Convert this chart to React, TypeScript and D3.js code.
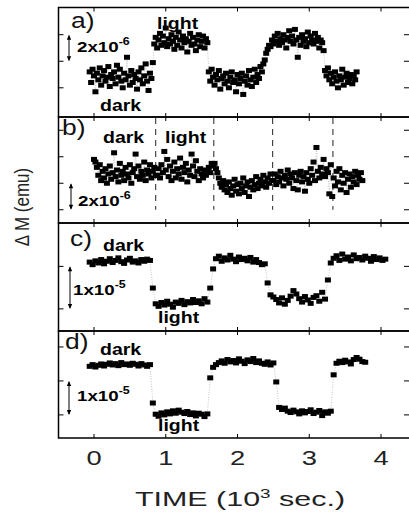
import React from 'react';
import * as d3 from 'd3';

// time stamps in seconds (axis unit is 10^3 s)
const TIMES_FINE = [
  -60, -40, -20, 0, 20, 40, 60, 80, 100, 120,
  140, 160, 180, 200, 220, 240, 260, 280, 300, 320,
  340, 360, 380, 400, 420, 440, 460, 480, 500, 520,
  540, 560, 580, 600, 620, 640, 660, 680, 700, 720,
  740, 760, 780, 800, 820, 840, 860, 880, 900, 920,
  940, 960, 980, 1000, 1020, 1040, 1060, 1080, 1100, 1120,
  1140, 1160, 1180, 1200, 1220, 1240, 1260, 1280, 1300, 1320,
  1340, 1360, 1380, 1400, 1420, 1440, 1460, 1480, 1500, 1520,
  1540, 1560, 1580, 1600, 1620, 1640, 1660, 1680, 1700, 1720,
  1740, 1760, 1780, 1800, 1820, 1840, 1860, 1880, 1900, 1920,
  1940, 1960, 1980, 2000, 2020, 2040, 2060, 2080, 2100, 2120,
  2140, 2160, 2180, 2200, 2220, 2240, 2260, 2280, 2300, 2320,
  2340, 2360, 2380, 2400, 2420, 2440, 2460, 2480, 2500, 2520,
  2540, 2560, 2580, 2600, 2620, 2640, 2660, 2680, 2700, 2720,
  2740, 2760, 2780, 2800, 2820, 2840, 2860, 2880, 2900, 2920,
  2940, 2960, 2980, 3000, 3020, 3040, 3060, 3080, 3100, 3120,
  3140, 3160, 3180, 3200, 3220, 3240, 3260, 3280, 3300, 3320,
  3340, 3360, 3380, 3400, 3420, 3440, 3460, 3480, 3500, 3520,
  3540, 3560, 3580, 3600, 3620, 3640, 3660, 3680, 3700, 3720,
  3740,
];

const TIMES_COARSE = [
  -60, -20, 20, 60, 100, 140, 180, 220, 260, 300,
  340, 380, 420, 460, 500, 540, 580, 620, 660, 700,
  740, 780, 820, 860, 900, 940, 980, 1020, 1060, 1100,
  1140, 1180, 1220, 1260, 1300, 1340, 1380, 1420, 1460, 1500,
  1540, 1580, 1620, 1660, 1700, 1740, 1780, 1820, 1860, 1900,
  1940, 1980, 2020, 2060, 2100, 2140, 2180, 2220, 2260, 2300,
  2340, 2380, 2420, 2460, 2500, 2540, 2580, 2620, 2660, 2700,
  2740, 2780, 2820, 2860, 2900, 2940, 2980, 3020, 3060, 3100,
  3140, 3180, 3220, 3260, 3300, 3340, 3380, 3420, 3460, 3500,
  3540, 3580, 3620, 3660, 3700, 3740, 3780, 3820, 3860, 3900,
  3940, 3980, 4020, 4060,
];

// panel a: ΔM in 10^-6 emu
const VALUES_A = [
  // dark
  1.2, 0.4, 1.4, 0.9, -0.3, 1.1, 0.6, 1.5, 0.2, 0.9,
  1.3, 0.5, 0.8, 1.6, 0.1, 1.0, 0.7, 1.2, 0.3, 1.7,
  0.8, 1.4, 0.5, 0.0, 1.1, 0.6, 2.3, 0.9, 0.2, 1.3,
  0.4, 1.0, 0.7, -0.1, 1.2, 0.6, 1.5, 0.3, 0.9, 1.8,
  0.5, -0.2, 1.1, 0.7,
  1.9,
  // light
  3.3, 3.8, 3.0, 3.6, 4.1, 3.2, 3.9, 3.4, 4.5, 3.1,
  3.7, 3.3, 4.0, 3.5, 2.9, 3.8, 3.2, 4.2, 3.6, 3.0,
  3.9, 3.4, 3.7, 2.7, 3.5, 4.1, 3.2, 3.8, 3.3, 2.8,
  3.6, 4.0, 3.1, 3.5, 3.9, 3.0, 3.7, 3.4,
  // dark
  1.2, 0.5, 1.4, 0.8, 0.2, 1.0, 0.6, 1.3, -0.1, 0.7,
  0.9, 0.3, 1.1, 0.5, 0.0, 0.8, 1.2, 0.4, 0.6, -0.3,
  1.0, 0.3, 0.7, 1.1, -0.5, 0.5, 0.9, 0.2, 1.3, 0.6,
  0.1, 0.8, 1.4, 0.4, 1.0, 0.7, 1.6, 1.2,
  1.8, 2.1, 2.6, 2.9, 3.2,
  // light
  3.1, 3.6, 3.3, 3.9, 3.5, 4.1, 3.2, 3.7, 3.4, 4.0,
  3.6, 3.0, 3.8, 4.3, 3.5, 3.9, 3.3, 4.4, 3.6, 2.3,
  3.8, 3.2, 4.0, 3.5, 3.7, 3.1, 4.2, 3.4, 3.9, 3.6,
  3.3, 4.1, 3.5, 3.8, 3.0, 3.6, 3.4, 2.8,
  // dark
  1.3, 0.9, 1.5, 0.6, 1.1, 0.3, 0.8, 1.2, 0.5, 0.0,
  0.9, 0.6, 1.4, 0.2, 0.8, 1.1, 0.4, 0.7, 1.0, 0.3,
  0.9, 0.6, 1.2,
];

// panel b: ΔM in 10^-6 emu
const VALUES_B = [
  null, null, null,
  // dark
  3.8, 3.6, 3.2, 2.6, 3.4, 2.2, 2.9, 2.4, 3.1, 2.0,
  2.7, 3.3, 2.3, 2.8, 4.3, 2.5, 3.0, 2.1, 3.5, 2.6,
  2.9, 2.2, 3.2, 2.7, 2.4, 3.4, 2.0, 2.8, 3.1, 4.2,
  2.5, 3.3, 2.3, 2.9, 2.6, 3.6, 2.2, 3.0, 2.7, 3.4,
  2.4, 2.9, 3.2, 2.6,
  // light
  2.6, 3.1, 2.4, 3.4, 2.8, 4.4, 3.0, 3.8, 2.5, 3.3,
  2.2, 2.9, 3.6, 2.4, 3.1, 2.7, 3.9, 2.3, 3.2, 2.8,
  3.5, 2.1, 3.0, 2.6, 4.2, 3.3, 2.5, 3.7, 2.9, 2.2,
  3.1, 2.7, 2.4, 3.0, 2.6, 2.9, 3.2, 2.8, 3.5, 3.3,
  // dark
  3.5, 3.1, 2.8, 2.4, 2.0, 1.7, 2.2, 1.5, 1.9, 1.3,
  2.1, 1.6, 1.1, 1.8, 2.3, 1.4, 1.9, 1.2, 2.0, 1.6,
  2.4, 1.3, 1.8, 2.1, 1.0, 1.7, 2.2, 1.5, 1.9, 2.5,
  1.6, 2.0, 2.3, 1.8, 2.6, 2.1, 1.7, 2.4, 2.0, 2.7, 2.2,
  // light
  2.2, 2.7, 1.9, 2.5, 2.1, 2.9, 2.4, 1.8, 2.6, 2.3,
  3.0, 2.0, 2.7, 2.4, 1.6, 2.8, 2.2, 1.5, 2.6, 2.9,
  2.1, 2.5, 1.4, 2.8, 2.3, 2.0, 3.1, 2.6, 3.6, 2.2,
  4.7, 2.9, 2.4, 3.2, 2.7, 3.8, 2.5, 3.1, 2.8, 1.2, 3.4, 1.0,
  // dark
  2.4, 1.8, 2.9, 2.1, 3.1, 1.5, 2.6, 2.0, 2.8, 1.3,
  2.3, 2.7, 1.7, 2.5, 2.1, 2.9, 1.9, 2.6, 2.3, 2.8, 2.2,
];

// panel c: ΔM in 10^-6 emu
const VALUES_C = [
  11.0, 10.4, 11.3, 10.8, 11.6, 10.6, 11.2, 11.8, 10.9, 11.4,
  12.0, 11.1, 10.7, 11.5, 11.9, 11.0, 11.3, 10.8, 11.6, 11.2,
  11.7, 11.4,
  4.9,
  1.2, 0.6, 1.5, 0.9, 1.8, 1.1, 0.4, 1.6, 1.3, 2.0,
  1.0, 1.7, 1.4, 2.2, 1.5, 1.9, 1.2, 2.4, 1.6,
  4.9, 9.4,
  11.8, 12.4, 11.2, 12.0, 11.5, 12.6, 11.7, 11.1, 12.2, 11.6,
  11.9, 11.3, 12.1, 11.0, 11.6, 10.9, 10.4, 10.6,
  6.1,
  3.3, 2.8, 2.2, 1.4, 2.6, 1.1, 2.0, 3.0, 4.3, 3.5,
  2.4, 1.6, 2.9, 2.1, 1.3, 2.7, 3.1, 1.8, 3.9, 2.3,
  6.8,
  10.8, 11.9, 12.5, 11.4, 12.9, 11.7, 12.2, 11.3, 12.7, 11.8,
  12.1, 11.5, 12.4, 11.9, 11.2, 12.3, 11.6, 12.0, 11.4, 11.7,
];

// panel d: ΔM in 10^-6 emu
const VALUES_D = [
  14.3, 14.8, 14.1, 14.6, 15.0, 14.4, 14.9, 15.3, 14.7, 15.1,
  14.5, 15.4, 14.8, 15.0, 14.6, 15.2, 14.9, 14.4, 15.1, 14.7,
  14.3, 14.8,
  3.5,
  0.2, -0.4, 0.6, 0.0, 0.9, 0.3, 1.2, 0.5, 1.4, 0.8,
  0.4, 1.0, 0.1, 0.6, -0.3, 0.5, 0.2, -0.5, 0.3,
  10.9,
  14.0, 14.8, 15.4, 15.9, 15.2, 16.3, 15.6, 16.0, 15.3, 16.5,
  15.8, 15.1, 16.2, 15.7, 16.6, 15.4, 15.9, 15.2, 14.9, 15.6,
  14.7, 15.3,
  9.7,
  2.2, 1.6, 2.0, 1.1, 0.7, 1.4, 0.9, 0.3, 1.2, 0.6,
  1.0, 1.5, 0.4, 0.8, 1.3, -0.2, 0.9, 0.5, 1.1,
  11.8,
  15.2, 15.8, 15.4, 16.1, 15.6, 15.0, 16.3, 16.9, 16.4, 15.7, 15.5,
];

const X_TICKS = [0, 1, 2, 3, 4];
const Y_TICKS_A = [0, 2, 4];
const Y_TICKS_B = [0, 2, 4, 6];
const Y_TICKS_C = [0, 10];
const Y_TICKS_D = [0, 10, 20];
const DASH_TIMES_B = [0.86, 1.67, 2.49, 3.33];

const FONT = '"Liberation Sans", Arial, Helvetica, sans-serif';
const W = 409;
const H = 512;
const X_LEFT = 58.5;
const X_RIGHT = 413;

const xScale = d3.scaleLinear().domain([0, 4]).range([94, 381]);

type PanelCfg = {
  label: string;
  top: number;
  bottom: number;
  domain: [number, number];
  times: number[];
  values: (number | null)[];
  yTicks: number[];
  arrow: [number, number];
  arrowX: number;
  labelPos: [number, number];
  darkPos: [number, number];
  lightPos: [number, number];
  scalePos: [number, number];
  scaleText: string;
  scaleExp: string;
  dashes?: number[];
};

const PANELS: PanelCfg[] = [
  {
    label: 'a)', top: 7.5, bottom: 117, domain: [-2.2, 6.05], times: TIMES_FINE, values: VALUES_A,
    yTicks: Y_TICKS_A, arrow: [2, 4], arrowX: 69, labelPos: [71, 28], darkPos: [100, 111],
    lightPos: [157, 29], scalePos: [77, 52], scaleText: '2x10', scaleExp: '-6',
  },
  {
    label: 'b)', top: 117, bottom: 223, domain: [-1, 7], times: TIMES_FINE, values: VALUES_B,
    yTicks: Y_TICKS_B, arrow: [0, 2], arrowX: 71, labelPos: [62, 135], darkPos: [103, 143],
    lightPos: [165, 143], scalePos: [78, 206], scaleText: '2x10', scaleExp: '-6', dashes: DASH_TIMES_B,
  },
  {
    label: 'c)', top: 223, bottom: 331, domain: [-5.2, 20.2], times: TIMES_COARSE, values: VALUES_C,
    yTicks: Y_TICKS_C, arrow: [0, 10], arrowX: 70, labelPos: [70, 246], darkPos: [103, 251],
    lightPos: [158, 323], scalePos: [73, 295], scaleText: '1x10', scaleExp: '-5',
  },
  {
    label: 'd)', top: 331, bottom: 438, domain: [-6.8, 24.7], times: TIMES_COARSE, values: VALUES_D,
    yTicks: Y_TICKS_D, arrow: [0, 10], arrowX: 69, labelPos: [65, 349], darkPos: [100, 355],
    lightPos: [158, 431], scalePos: [77, 401], scaleText: '1x10', scaleExp: '-5',
  },
];

function Txt(props: {
  x: number; y: number; sx?: number; size: number; weight?: string; anchor?: string; fill?: string;
  children: React.ReactNode;
}) {
  const { x, y, sx = 1, size, weight = 'normal', anchor = 'start', fill = '#000', children } = props;
  return (
    <text
      transform={`translate(${x},${y}) scale(${sx},1)`}
      fontFamily={FONT}
      fontSize={size}
      fontWeight={weight}
      textAnchor={anchor}
      fill={fill}
    >
      {children}
    </text>
  );
}

function Panel({ cfg }: { cfg: PanelCfg }) {
  const y = d3.scaleLinear().domain(cfg.domain).range([cfg.bottom, cfg.top]);
  const pts: { t: number; v: number }[] = [];
  cfg.values.forEach((v, i) => {
    if (v !== null && v !== undefined) pts.push({ t: cfg.times[i] / 1000, v });
  });
  const line = d3
    .line<{ t: number; v: number }>()
    .x((d) => xScale(d.t))
    .y((d) => y(d.v));
  const mw = 6;
  const mh = 5;
  const a0 = y(cfg.arrow[0]);
  const a1 = y(cfg.arrow[1]);
  const ax = cfg.arrowX;
  return (
    <g>
      {/* frame */}
      <rect
        x={X_LEFT}
        y={cfg.top}
        width={X_RIGHT - X_LEFT}
        height={cfg.bottom - cfg.top}
        fill="none"
        stroke="#000"
        strokeWidth={1.5}
      />
      {/* x ticks */}
      {X_TICKS.map((t) => (
        <g key={'xt' + t}>
          <line x1={xScale(t)} x2={xScale(t)} y1={cfg.top} y2={cfg.top + 4} stroke="#000" strokeWidth={1} />
          <line x1={xScale(t)} x2={xScale(t)} y1={cfg.bottom} y2={cfg.bottom - 4} stroke="#000" strokeWidth={1} />
        </g>
      ))}
      {/* y ticks */}
      {cfg.yTicks.map((v) => (
        <g key={'yt' + v}>
          <line x1={X_LEFT} x2={X_LEFT + 5} y1={y(v)} y2={y(v)} stroke="#000" strokeWidth={1} />
          <line x1={404} x2={X_RIGHT} y1={y(v)} y2={y(v)} stroke="#000" strokeWidth={1} />
        </g>
      ))}
      {/* dashed separators */}
      {cfg.dashes &&
        cfg.dashes.map((t) => (
          <line
            key={'d' + t}
            x1={xScale(t)}
            x2={xScale(t)}
            y1={cfg.top + 1}
            y2={y(0)}
            stroke="#222"
            strokeWidth={1}
            strokeDasharray="6 5"
          />
        ))}
      {/* connecting line */}
      <path d={line(pts) || ''} fill="none" stroke="#aaa" strokeWidth={0.7} strokeDasharray="1 1.5" />
      {/* markers */}
      {pts.map((d, i) => (
        <rect key={i} x={xScale(d.t) - mw / 2} y={y(d.v) - mh / 2} width={mw} height={mh} fill="#000" />
      ))}
      {/* panel label */}
      <Txt x={cfg.labelPos[0]} y={cfg.labelPos[1]} size={22} sx={1.2} fill="#111">
        {cfg.label}
      </Txt>
      <Txt x={cfg.darkPos[0]} y={cfg.darkPos[1]} size={16} sx={1.22} weight="bold">
        dark
      </Txt>
      <Txt x={cfg.lightPos[0]} y={cfg.lightPos[1]} size={16} sx={1.22} weight="bold">
        light
      </Txt>
      {/* scale bar */}
      <line x1={ax} x2={ax} y1={a0 - 1} y2={a1 + 1} stroke="#000" strokeWidth={1} />
      <path d={`M${ax - 2.2},${a1 + 5} L${ax},${a1} L${ax + 2.2},${a1 + 5} Z`} fill="#000" />
      <path d={`M${ax - 2.2},${a0 - 5} L${ax},${a0} L${ax + 2.2},${a0 - 5} Z`} fill="#000" />
      <Txt x={cfg.scalePos[0]} y={cfg.scalePos[1]} size={15} sx={1.25} weight="bold">
        {cfg.scaleText}
        <tspan dy={-7} fontSize={10}>
          {cfg.scaleExp}
        </tspan>
      </Txt>
    </g>
  );
}

export default function App() {
  return (
    <svg
      width={W}
      height={H}
      viewBox={`0 0 ${W} ${H}`}
      style={{ position: 'absolute', left: 0, top: 0, background: '#fff' }}
    >
      <rect x={0} y={0} width={W} height={H} fill="#fff" />
      {PANELS.map((p) => (
        <Panel key={p.label} cfg={p} />
      ))}
      {/* x tick labels */}
      {X_TICKS.map((t) => (
        <Txt key={'xl' + t} x={xScale(t)} y={465} size={21} sx={1.3} anchor="middle" fill="#222">
          {String(t)}
        </Txt>
      ))}
      {/* x title */}
      <Txt x={240} y={506} size={21} sx={1.45} anchor="middle" fill="#222">
        TIME (10
        <tspan dy={-8} fontSize={13}>
          3
        </tspan>
        <tspan dy={8}> sec.)</tspan>
      </Txt>
      {/* y title */}
      <text
        transform="translate(29,207) rotate(-90) scale(1,1.2)"
        fontFamily={FONT}
        fontSize={17}
        textAnchor="middle"
        fill="#222"
      >
        Δ M (emu)
      </text>
    </svg>
  );
}
